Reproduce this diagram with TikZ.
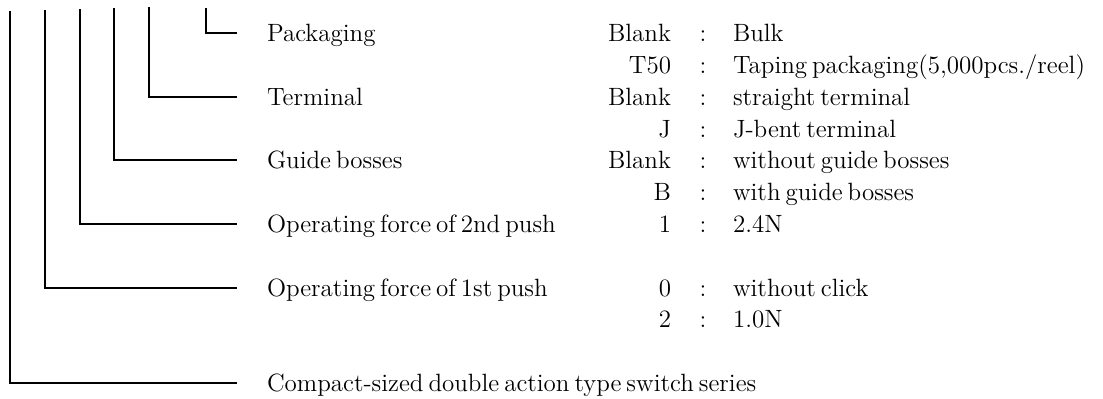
\documentclass[tikz,border=0pt]{standalone}
\usepackage{tikz}

\newcommand{\partfont}{\fontsize{12.5}{14}\selectfont\spaceskip=0.2em plus 0.05em\relax}

\begin{document}
\begin{tikzpicture}[x=0.5pt, y=-0.5pt, line width=1pt,
  every node/.style={inner sep=0pt, text height=8.5pt, text depth=0pt, font=\partfont},
  item/.style={anchor=west},
  code/.style={anchor=east},
  sep/.style={anchor=center},
  val/.style={anchor=west}]
  \useasboundingbox (0,0) rectangle (1103,398);

  % items
  \node[item] (pack)   at (266,33)    {Packaging};
  \node[item] (term)   at (266,96.6)  {Terminal};
  \node[item] (guide)  at (266,160.3) {Guide bosses};
  \node[item] (second) at (266,223.9) {Operating force of 2nd push};
  \node[item] (first)  at (266,287.6) {Operating force of 1st push};
  \node[item] (series) at (266,383)   {Compact-sized double action type switch series};

  % codes and meanings
  \foreach \y/\c/\v [count=\i] in {33/Blank/Bulk,
      64.8/T50/{Taping packaging(5,000pcs./reel)},
      96.6/Blank/straight terminal,
      128.5/J/J-bent terminal,
      160.3/Blank/without guide bosses,
      192.1/B/with guide bosses,
      223.9/1/2.4N,
      287.6/0/without click,
      319.4/2/1.0N}{
    \node[code] (c\i) at (672,\y) {\c};
    \node[sep]  (s\i) at (703,\y) {:};
    \node[val]  (v\i) at (732,\y) {\v};
  }

  % connectors
  \foreach \x/\y/\n in {10/11/series, 45/10/first, 80/9/second, 114/8/guide, 149/7/term, 206/8/pack}{
    \coordinate (top \n) at (\x,\y);
    \draw[shorten >=14.5pt] (top \n) |- (\n.west);
  }
\end{tikzpicture}
\end{document}
